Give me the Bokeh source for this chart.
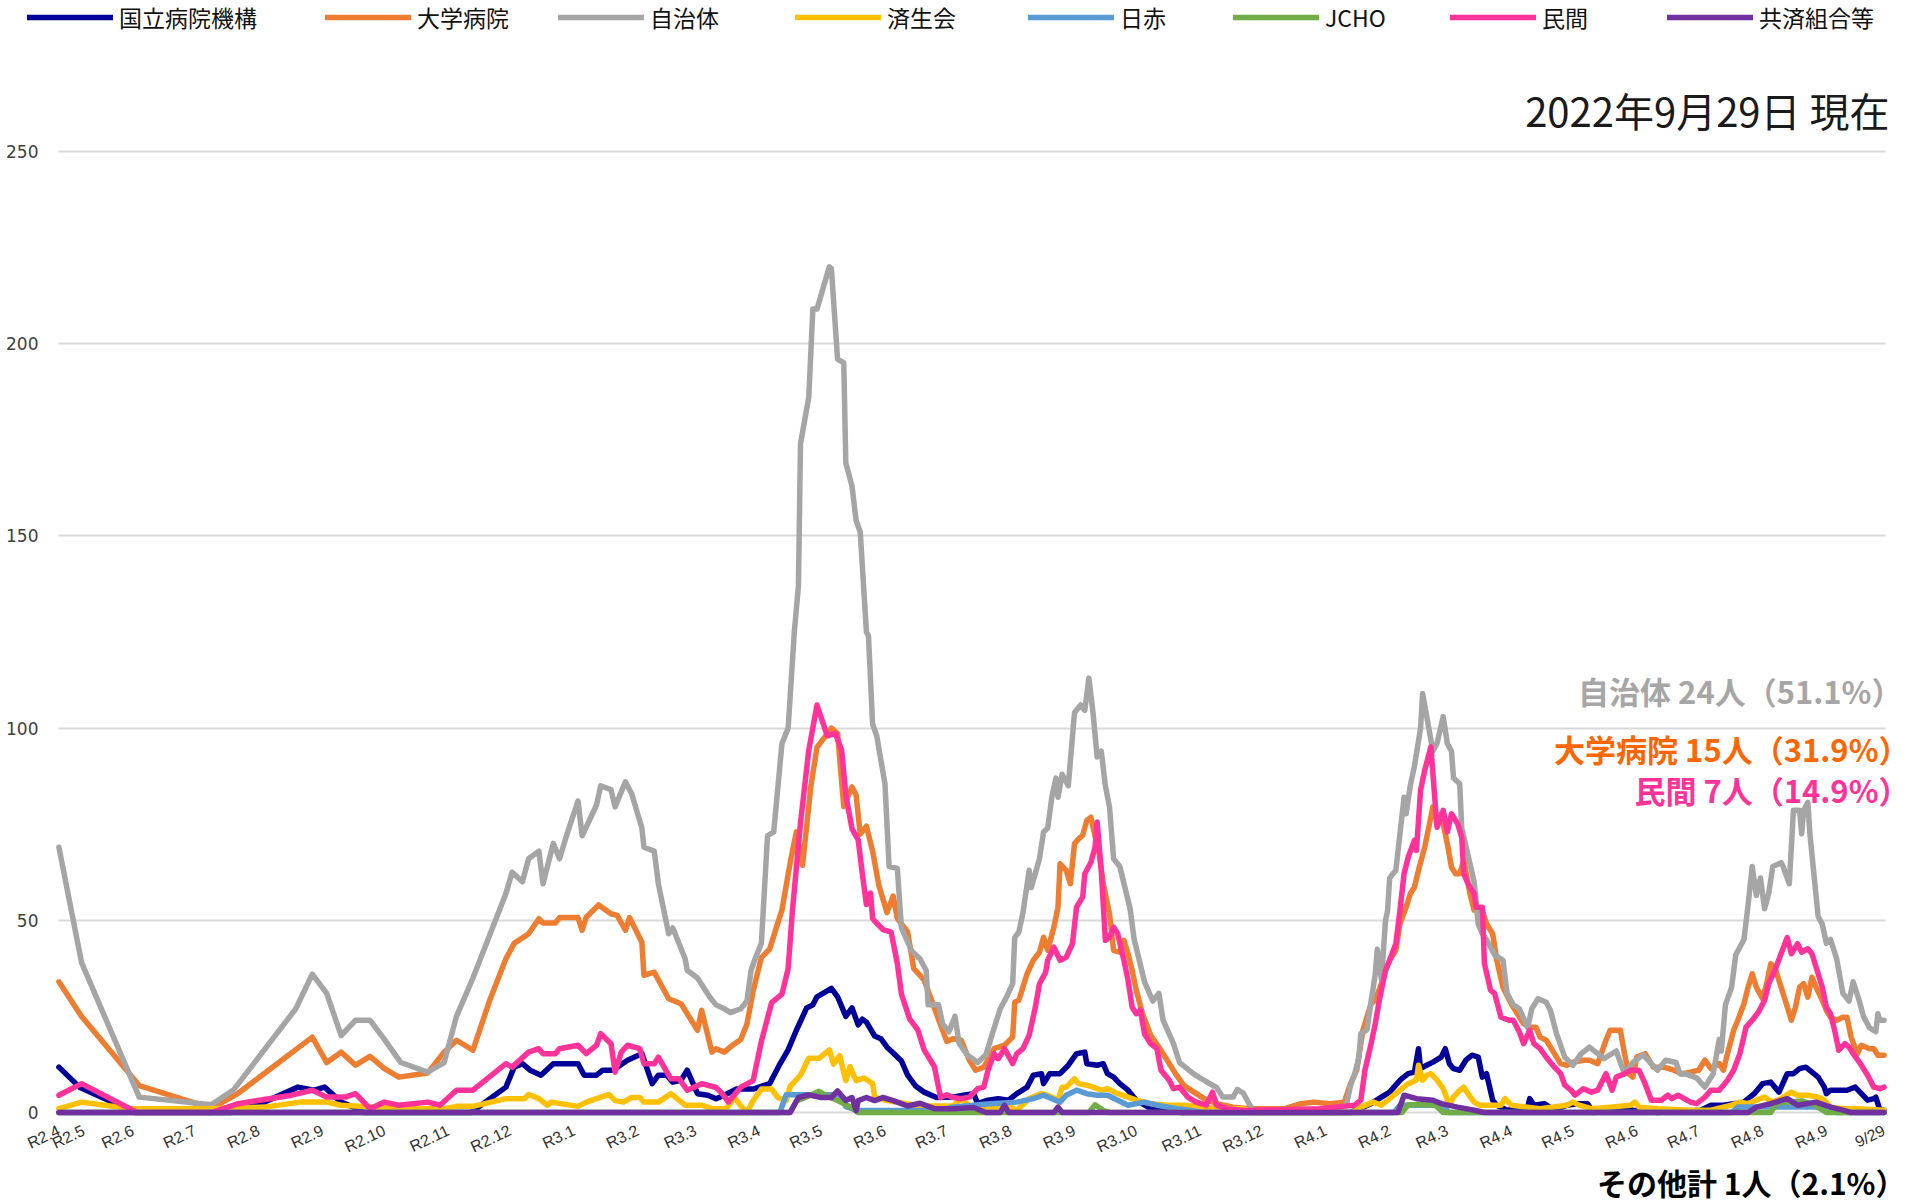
from bokeh.plotting import figure
from bokeh.models import Range1d, Legend, LegendItem, Label, Title, Grid
from bokeh.embed import file_html
from bokeh.resources import INLINE

# x = days since 2020-04-26 (first data day); y = persons
TICK_DAYS = [0, 12, 36, 66, 97, 128, 158, 189, 219, 250, 281, 309, 340, 370, 401, 431,
             462, 493, 523, 554, 584, 615, 646, 674, 705, 735, 766, 796, 827, 858, 886]
TICK_LABELS = ["R2.4", "R2.5", "R2.6", "R2.7", "R2.8", "R2.9", "R2.10", "R2.11", "R2.12",
               "R3.1", "R3.2", "R3.3", "R3.4", "R3.5", "R3.6", "R3.7", "R3.8", "R3.9",
               "R3.10", "R3.11", "R3.12", "R4.1", "R4.2", "R4.3", "R4.4", "R4.5", "R4.6",
               "R4.7", "R4.8", "R4.9", "9/29"]
Y_TICKS = [0, 50, 100, 150, 200, 250]

KOKURITSU = [(0,11.8),(10,6.6),(37,0),(83,0),(98,2.3),(116,6.6),(124,5.8),(129,6.6),(137,2.7),(143,1.4),(148,0),(200,0),(217,6.6),(221,11.8),(225,12.7),(229,10.9),(234,9.7),(240,12.7),(252,12.7),(255,9.7),(261,9.7),(264,11),(269,11),(276,13.6),(283,15.3),(288,7.5),(291,9.7),(295,9.7),(298,7.9),(302,8.4),(305,11),(310,4.9),(315,4.5),(319,3.6),(323,4.5),(329,6.1),(337,6.1),(345,7.5),(350,12.6),(354,16.3),(358,21.4),(363,27.2),(366,28),(368,30.1),(375,32.3),(378,30.1),(382,25),(385,27.2),(388,22.8),(390,24.3),(392,23.5),(396,19.9),(399,19.2),(402,17),(405,15.5),(409,13.4),(412,9.7),(416,6.8),(420,5.3),(426,3.9),(434,4),(439,4.5),(444,4.9),(446,2.3),(451,3.2),(456,3.6),(461,3.2),(465,4.9),(470,6.6),(473,9.7),(477,10.1),(478,7.5),(481,10.1),(486,10.1),(490,12.3),(494,15.3),(498,15.7),(499,12.7),(504,12.3),(507,12.7),(509,10.1),(512,9.2),(515,7.5),(519,5.8),(523,3.2),(530,1),(538,0.6),(545,0),(627,0),(637,2.3),(642,4),(646,5.3),(651,8.4),(655,10.1),(658,10.5),(660,16.6),(661,11.4),(664,12.3),(667,13.1),(671,14.4),(673,16.6),(675,12.7),(677,11.4),(680,11),(683,13.6),(686,14.9),(689,14.4),(691,9.2),(693,10.1),(696,3.2),(698,1.9),(703,0.6),(713,1.4),(714,3.6),(716,1.9),(721,2.3),(726,0.6),(732,1.9),(737,2.3),(742,2.3),(745,0),(752,1),(756,1.4),(764,0.6),(776,0),(797,0.6),(802,1.9),(808,1.9),(818,2.7),(823,4.9),(827,7.5),(831,7.9),(835,5.3),(839,10.1),(842,10.1),(845,11.4),(848,11.8),(851,10.5),(854,9.2),(857,6.6),(858,4.9),(860,5.8),(864,5.8),(868,5.8),(872,6.6),(875,4.9),(878,3.2),(881,3.6),(882,4),(884,0.6),(886,0.6)]

DAIGAKU = [(0,34),(11,25),(39,7),(67,2.3),(74,1),(87,5),(123,19.6),(130,13),(137,15.7),(144,12.3),(151,14.6),(158,11.4),(165,9.2),(179,10.3),(187,15.7),(193,18.8),(201,16.2),(209,29),(217,40),(221,44),(228,46.5),(233,50.4),(235,49.3),(241,49.3),(243,50.7),(252,50.7),(254,47.4),(256,50.8),(262,54),(268,51.7),(271,51.3),(275,47.4),(277,50.7),(283,44.3),(284,35.7),(289,36.5),(296,29.6),(302,28.3),(310,21.4),(312,26.6),(317,15.7),(319,16.6),(323,15.7),(327,17.5),(331,19),(334,23),(337,31.6),(341,40.3),(345,42.5),(351,52.7),(355,65),(358,73),(361,64.3),(365,84.7),(368,95),(375,100),(378,98.6),(381,79.6),(385,84.7),(387,82.6),(389,72.4),(392,74.5),(395,68),(398,59.2),(402,52),(405,56.3),(407,50.5),(412,47),(415,37.4),(420,34.5),(425,27.2),(428,22.8),(431,18.5),(434,19.2),(438,18.8),(442,13.6),(445,11),(449,11.8),(454,16.6),(459,17.5),(463,19.6),(464,28.7),(466,29.2),(470,36.1),(473,39.6),(476,41.7),(478,45.6),(480,42.2),(483,48.2),(485,53.4),(486,64.7),(489,63),(491,59.5),(493,69.9),(495,71.2),(497,72.1),(499,76),(501,76.8),(502,74.2),(505,67.3),(507,59.5),(510,51.7),(512,42.2),(515,41.7),(517,44.8),(519,41.3),(521,37),(523,31.8),(526,25.7),(530,20.1),(534,17),(538,13.6),(542,10.1),(546,7.1),(551,5.3),(556,3.6),(562,2.3),(570,1.4),(578,1),(595,1),(603,2.3),(609,2.7),(617,2.3),(624,2.7),(627,7.5),(630,11),(633,21.4),(637,28.3),(639,29.2),(642,33.5),(644,37),(646,39.6),(649,42.2),(651,49.1),(654,53.4),(656,56.9),(658,58.6),(660,63),(663,69),(665,74.2),(667,79.5),(669,76),(671,77.7),(674,69.9),(676,63.8),(678,62.1),(680,62.1),(682,65.6),(685,56.9),(687,52.6),(691,52.6),(693,49.1),(696,46.5),(698,39.6),(701,32.6),(705,28.3),(708,25.7),(711,23.1),(714,22.2),(717,22.2),(719,19.6),(722,18.8),(726,15.3),(729,12.7),(732,12.3),(735,13.1),(740,13.6),(743,13.6),(747,12.7),(751,18.8),(753,21.4),(758,21.4),(760,15.3),(762,10.1),(764,9.2),(766,14.4),(770,15.3),(774,11.8),(779,11.8),(784,11),(788,10.1),(792,10.5),(796,11),(799,13.6),(802,11.4),(806,12.7),(808,11),(810,15.3),(813,21.4),(815,24),(818,28.3),(820,32.6),(822,36.1),(824,32.6),(827,29.6),(829,33.5),(831,38.7),(833,37.8),(836,32.6),(838,29.2),(841,24),(843,27.4),(845,32.6),(847,33.5),(849,30),(851,35.2),(853,32.6),(856,29.2),(858,26.6),(860,24.8),(863,24),(866,24.8),(868,24.8),(870,19.6),(873,15.3),(875,17.5),(879,16.6),(881,16.6),(883,14.9),(886,14.9)]

JICHITAI = [(0,69),(11,39),(39,4),(74,2),(85,6),(115,27),(123,36),(130,31),(137,20),(144,24),(151,24),(158,19),(166,13),(179,10.5),(187,13),(193,25),(201,35),(217,57),(220,62.5),(225,60),(228,66),(233,68),(235,59.5),(240,70),(243,66),(247,73),(252,81),(254,72),(261,80),(263,85),(268,84),(270,79.5),(275,86),(278,83),(283,74),(284,69),(289,68),(291,59.5),(296,46.5),(298,48),(304,40),(305,37),(310,35),(316,30),(319,28),(323,27),(326,26),(331,27),(334,29),(336,37),(338,40),(341,44),(344,72),(347,73),(351,96),(354,100),(357,125),(359,137),(360,174),(364,186),(366,209),(368,209),(374,220),(375,219.5),(378,196),(381,195),(382,169),(385,163),(387,154),(389,151),(392,125),(393,124),(395,101),(397,98),(401,85.5),(403,64),(407,63.5),(409,48),(414,42),(418,40),(421,37),(422,28),(427,28),(429,23),(432,21),(435,25),(437,18),(441,15),(446,13),(450,15),(454,22),(457,27),(460,30),(463,33.5),(464,45.5),(466,47),(468,52),(471,63),(472,58.5),(476,66),(478,73),(480,74),(482,82),(484,87),(485,82),(487,88),(490,85),(493,104),(496,106),(498,104.6),(500,113),(502,104),(504,92.5),(506,94),(508,85),(510,79.5),(512,66),(515,64),(520,53),(522,45),(527,34),(531,29),(534,31),(536,24),(541,18),(544,13),(551,10),(557,8),(562,6.5),(565,4),(570,4),(572,6),(575,5),(578,2),(580,0.5),(618,0),(625,2),(627,7),(629,10),(631,14),(632,20.5),(635,21.5),(637,29),(639,36),(640,42.5),(642,34.5),(644,50),(645,52.5),(646,61),(649,63),(651,72.5),(653,82),(654,77.7),(656,85),(658,90),(661,100),(662,109),(664,103),(667,94),(669,96),(672,103),(674,96),(676,94),(677,87),(680,85.5),(681,74),(684,67),(687,60),(689,49),(691,46.5),(693,45),(697,41),(701,39.6),(703,31),(706,28),(709,27),(713,22),(715,27),(718,29.6),(722,28.7),(724,26.6),(727,20.5),(731,14.4),(735,12.3),(739,15.3),(743,17),(750,14),(756,16),(760,10),(764,13),(769,15),(776,11),(780,13.6),(785,13),(787,10),(790,10),(795,9),(799,6.6),(803,10),(806,19),(807,16),(809,28),(812,32.6),(814,41),(818,45),(820,54),(822,64),(824,56.5),(826,61),(828,53),(830,57),(832,64),(836,65),(837,64),(840,59.5),(842,78.6),(845,78.6),(846,72.5),(847,78.6),(849,80.7),(850,72.5),(854,51),(856,49),(858,44),(860,45),(863,40),(866,31),(869,29),(871,34),(874,29),(876,25),(879,22),(882,21),(883,25.7),(884,24),(886,24)]

SAISEIKAI = [(0,1),(11,2.7),(35,1),(74,1),(100,1.4),(117,2.7),(130,2.7),(137,1.9),(152,1.4),(165,1),(187,1),(193,1.6),(201,1.6),(217,3.6),(226,3.6),(228,4.7),(233,3.6),(237,1.9),(239,2.7),(252,1.6),(256,2.7),(261,3.6),(267,4.7),(270,3.1),(274,2.7),(278,3.9),(282,3.9),(284,2.7),(291,2.7),(297,4.9),(304,1.9),(312,1.9),(317,1),(324,1),(328,3.9),(331,1.7),(334,0),(337,3.1),(341,6.1),(346,6.1),(349,3.9),(353,3.1),(355,6.8),(360,9.7),(364,14.1),(369,14.1),(374,16.3),(376,12.6),(379,14.8),(382,8.3),(384,11.9),(387,8.3),(391,9),(395,7.5),(396,3.9),(402,3.1),(410,2.4),(418,1.7),(434,1.7),(438,3.6),(443,1.4),(462,1.4),(465,0.6),(471,3.6),(477,4.9),(480,4.5),(485,3.2),(487,6.6),(489,6.6),(493,8.8),(495,7.5),(499,7.1),(502,6.6),(506,5.8),(509,6.2),(514,4.9),(519,4),(523,3.2),(530,2.3),(538,1.9),(546,1.9),(556,1.4),(562,1),(575,1),(580,0),(628,0),(632,1.4),(638,2.7),(642,1.9),(646,3.6),(651,5.8),(655,7.5),(659,8.4),(660,12.3),(662,8.4),(664,9.7),(666,10.1),(669,8.4),(672,6.2),(675,1.9),(677,4),(680,5.8),(682,6.6),(684,4.9),(687,2.7),(690,1.9),(700,1.9),(702,3.6),(705,1.9),(713,1.4),(719,1),(732,1.9),(735,2.7),(738,1.9),(744,1),(753,1.4),(763,1.9),(765,2.7),(767,1.4),(776,1),(792,0.6),(802,0.6),(812,1.9),(816,2.7),(820,2.3),(824,3.2),(828,4),(832,2.7),(836,3.6),(841,5.3),(844,4.5),(849,4.5),(854,4),(857,3.2),(860,1.4),(867,1),(873,1),(886,0.6)]

NISSEKI = [(0,0),(350,0),(353,4.6),(379,4.6),(382,1.5),(388,0.5),(430,0.5),(433,1.4),(452,2.3),(465,2.7),(473,3.6),(478,4.5),(486,2.7),(489,4.5),(494,5.8),(499,4.9),(504,4.5),(509,4.5),(514,3.2),(519,1.9),(527,2.7),(533,1.9),(543,1),(549,0.6),(555,0),(648,0),(651,1.9),(671,1.9),(675,0),(812,0),(815,1.4),(860,1.4),(863,0),(886,0)]

JCHO = [(0,0),(355,0),(358,3),(365,4.5),(369,5.5),(372,4.5),(378,3.1),(384,1.5),(388,0),(500,0),(503,2),(507,0.5),(510,0),(652,0),(655,2),(668,2),(672,0),(831,0),(834,2.5),(846,3),(852,2),(858,0),(886,0)]

MINKAN = [(0,4.5),(11,7.5),(38,0),(74,0),(87,2.3),(113,4.5),(123,5.8),(130,4),(139,4),(144,4.9),(151,1),(158,2.7),(165,1.9),(179,2.7),(185,1.9),(193,5.8),(201,5.8),(217,12.7),(220,11.8),(228,15.7),(233,16.6),(235,15.3),(241,15.3),(243,16.6),(252,17.5),(256,15.3),(261,17.5),(263,20.5),(268,17.9),(270,10.5),(273,15.7),(276,17.5),(282,16.6),(284,12.7),(289,12.7),(291,14.4),(297,8.8),(301,8.8),(305,5.8),(312,7.5),(319,6.5),(322,4.9),(325,2.7),(331,6.6),(337,8.3),(341,18.5),(346,28.6),(351,30.8),(354,37.4),(356,52),(360,75.3),(364,94.2),(368,106),(373,98),(377,98.6),(380,94.2),(382,82.6),(385,73.8),(388,70.9),(390,62.2),(392,54.1),(394,57.1),(395,50.5),(396,49.8),(400,47.6),(404,46.9),(407,38.8),(409,30.8),(413,24.3),(417,21.4),(420,16.3),(425,11.9),(428,3.9),(431,4.6),(434,3.9),(438,3.6),(442,4),(446,6.2),(449,6.6),(451,11),(454,15.3),(456,14),(459,16.6),(463,12.7),(465,15.3),(468,16.6),(471,20.1),(474,27.4),(476,33.5),(479,36.5),(480,39.6),(483,43),(486,39.6),(489,40.4),(492,43.9),(494,53.4),(497,56.1),(498,62.1),(501,65.1),(503,69),(504,75.6),(506,63),(508,44.8),(510,45.6),(512,48.2),(514,46.5),(517,39.6),(519,34.4),(521,27.4),(523,25.7),(525,26.6),(527,20.5),(530,17.9),(533,16.6),(535,11),(539,8.4),(541,6.2),(544,6.6),(548,4),(552,2.7),(557,1.9),(560,5.3),(562,1.9),(567,1),(575,0.5),(612,1),(620,1.4),(629,1.9),(632,3.2),(634,11),(637,17.9),(639,23.1),(641,29.2),(644,37),(646,39.6),(649,43.9),(651,52.6),(653,62.1),(655,66.4),(658,70.8),(659,68.2),(661,83.8),(663,89),(666,95.1),(667,88.1),(669,74.2),(671,76.8),(672,78.6),(674,73),(676,77.7),(679,75.1),(681,71.6),(682,62.1),(684,59.5),(687,56.9),(688,53.4),(691,53.4),(692,38.7),(695,31.8),(697,30.9),(700,24.8),(704,24),(706,24),(709,20.9),(711,17.9),(714,21.4),(716,17.9),(719,16.6),(722,14.4),(726,11.8),(729,10.1),(731,7.1),(734,5.8),(736,4.5),(740,6.2),(744,5.3),(747,5.8),(751,10.1),(754,5.8),(756,9.2),(760,10.1),(763,11),(767,11),(770,7.5),(773,3.2),(778,3.2),(781,4.5),(783,3.6),(786,4.5),(789,3.6),(792,2.7),(795,2.3),(799,4),(802,5.8),(806,5.8),(810,8.4),(813,11),(816,15.3),(819,22.2),(822,24),(825,26.1),(828,29.2),(830,33.5),(833,37),(836,41.3),(839,45.5),(841,41.3),(844,43.9),(846,41.7),(849,42.6),(851,41.3),(854,36.1),(856,32.6),(858,27.4),(860,25.7),(862,21.4),(864,16.2),(867,17.9),(869,17),(871,15.3),(875,12.3),(878,9.7),(881,6.6),(884,6.2),(886,6.6)]

KYOSAI = [(0,0),(355,0),(359,3.9),(364,4.6),(370,3.9),(375,3.9),(378,5.6),(382,3.1),(385,3.9),(387,0.5),(388,3.1),(392,3.9),(396,3.1),(400,3.9),(405,3.1),(412,1.7),(418,2.4),(425,1),(434,1),(444,1.3),(450,0),(457,0),(459,1.9),(461,0),(483,0),(485,1.4),(487,0),(650,0),(653,4.5),(659,3.6),(667,3.2),(671,2.3),(679,1.4),(687,0.6),(692,0),(820,0),(824,1.4),(831,2.3),(839,3.6),(844,1.9),(853,2.7),(860,1.4),(866,0.6),(870,0),(886,0)]

SERIES_NAMES = ["国立病院機構", "大学病院", "自治体", "済生会", "日赤", "JCHO", "民間", "共済組合等"]
SERIES_DATA = [KOKURITSU, DAIGAKU, JICHITAI, SAISEIKAI, NISSEKI, JCHO, MINKAN, KYOSAI]
SERIES_COLORS = ["#000099", "#ED7D31", "#A5A5A5", "#FFC000", "#5B9BD5", "#70AD47", "#FF3399", "#7030A0"]

DATE_TEXT = "2022年9月29日 現在"
NOTES = ["自治体  24人（51.1%）", "大学病院 15人（31.9%）", "民間 7人（14.9%）"]
NOTE_COLORS = ["#A6A6A6", "#FF6600", "#FF3399"]
OTHER_NOTE = "その他計 1人（2.1%）"

JP = "Noto Sans CJK JP"

# ---- layout (pixels) ----
W, H = 1909, 1204
FL = 20             # frame left
FB = 84             # bottom border (axis + note)
FRAME_H = H - FB    # frame spans y 0..1120
PX_DAY = 2.060
PX_UNIT = 3.844
X0_PX = 58.4        # pixel of day 0
Y0_PX = 1112.0      # pixel of value 0

x_start = -(X0_PX - FL) / PX_DAY
x_end = x_start + (W - FL) / PX_DAY
y_start = -(FRAME_H - Y0_PX) / PX_UNIT
y_end = y_start + FRAME_H / PX_UNIT

p = figure(width=W, height=H, output_backend="svg", toolbar_location=None,
           x_range=Range1d(x_start, x_end), y_range=Range1d(y_start, y_end),
           min_border_left=FL, min_border_right=0, min_border_top=0, min_border_bottom=FB)
p.outline_line_color = None
p.background_fill_color = "white"
p.border_fill_color = "white"

p.xgrid.visible = False
p.yaxis.ticker = Y_TICKS
p.ygrid.grid_line_color = "#D9D9D9"
p.ygrid.grid_line_width = 2
if "cross_bounds" in Grid.properties():
    p.ygrid.cross_bounds = (min(TICK_DAYS) - 0.3, max(TICK_DAYS) + 0.7)

p.yaxis.axis_line_color = None
p.yaxis.major_tick_line_color = None
p.yaxis.minor_tick_line_color = None
p.yaxis.major_tick_out = 0
p.yaxis.major_tick_in = 0
p.yaxis.major_label_text_font = "DejaVu Sans"
p.yaxis.major_label_text_font_size = "17px"
p.yaxis.major_label_text_color = "#404040"
p.yaxis.major_label_standoff = -18

p.xaxis.ticker = TICK_DAYS
p.xaxis.major_label_overrides = {d: t for d, t in zip(TICK_DAYS, TICK_LABELS)}
p.xaxis.major_label_orientation = 0.44
p.xaxis.axis_line_color = None
p.xaxis.major_tick_line_color = None
p.xaxis.minor_tick_line_color = None
p.xaxis.major_tick_out = 0
p.xaxis.major_tick_in = 0
p.xaxis.major_label_text_font = "Liberation Sans"
p.xaxis.major_label_text_font_size = "16px"
p.xaxis.major_label_text_color = "#333333"
p.xaxis.major_label_standoff = 9

renderers = []
for data, color in zip(SERIES_DATA, SERIES_COLORS):
    xs = [d for d, v in data]
    ys = [v for d, v in data]
    r = p.line(xs, ys, line_color=color, line_width=5.5, line_join="round", line_cap="round")
    renderers.append(r)

LEGEND_X = [27, 325, 558, 795, 1028, 1233, 1450, 1667]   # px of each legend swatch
LEG_H = 34
for name, r, lx in zip(SERIES_NAMES, renderers, LEGEND_X):
    lg = Legend(items=[LegendItem(label=name, renderers=[r])],
                location=(lx - FL, FRAME_H - LEG_H), orientation="horizontal",
                glyph_width=86, glyph_height=LEG_H, label_height=LEG_H, label_standoff=6,
                padding=0, margin=0, spacing=0,
                border_line_alpha=0, background_fill_alpha=0,
                label_text_font=JP, label_text_font_size="23px", label_text_color="#111111",
                label_text_baseline="middle")
    p.add_layout(lg)

p.add_layout(Label(x=1889 - FL, y=FRAME_H - 109, x_units="screen", y_units="screen",
                   text=DATE_TEXT, text_align="right", text_baseline="middle",
                   text_font=JP, text_font_size="40px", text_color="#1A1A1A"))

for txt, col, fy in zip(NOTES, NOTE_COLORS, [690, 748, 789]):
    p.add_layout(Label(x=W - FL, y=FRAME_H - fy, x_units="screen", y_units="screen",
                       text=txt, text_align="right", text_baseline="middle",
                       text_font=JP, text_font_style="bold", text_font_size="31px",
                       text_color=col))

note = Title(text=OTHER_NOTE, align="right", offset=4, standoff=-15,
             vertical_align="middle",
             text_font=JP, text_font_style="bold", text_font_size="30px",
             text_color="#000000")
p.add_layout(note, "below")

open("out.html", "w").write(file_html(p, INLINE))
